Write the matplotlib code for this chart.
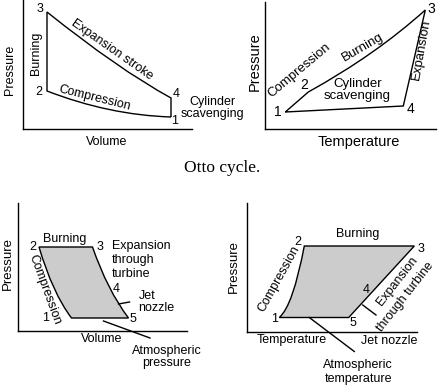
import matplotlib
matplotlib.use("Agg")
import matplotlib.pyplot as plt
from matplotlib.path import Path
from matplotlib.patches import PathPatch

W, H, DPI = 442, 389, 100
SANS = ["Liberation Sans", "DejaVu Sans"]
SERIF = ["Liberation Serif", "DejaVu Serif"]
FS = 9
GRAY = "#cccccc"
LW = 1.0

# ---------------- data (arbitrary units) ----------------
# Otto cycle, pressure-volume: states 1,2,3,4
otto_pv_states = ["1", "2", "3", "4"]
otto_pv_volume = [148, 24, 24, 148]
otto_pv_pressure = [12, 38, 117, 31]
otto_pv_compression_ctrl = (86, 14)
otto_pv_expansion_ctrl = (95, 60)

# Otto cycle, pressure-temperature
otto_pt_states = ["1", "2", "3", "4"]
otto_pt_temperature = [20, 43, 160, 138]
otto_pt_pressure = [17, 37, 119, 23]
otto_pt_burning_ctrl = (110, 74)

# Brayton (jet) cycle, pressure-volume: states 1,2,3,5
jet_pv_states = ["1", "2", "3", "5"]
jet_pv_volume = [54, 21.5, 75, 111]
jet_pv_pressure = [13, 84, 84, 13]
jet_pv_compression_ctrl = (35, 38)
jet_pv_expansion_ctrl = (90, 40.5)

# Brayton (jet) cycle, pressure-temperature
jet_pt_states = ["1", "2", "3", "5"]
jet_pt_temperature = [32.6, 57.6, 167.6, 102]
jet_pt_pressure = [14, 85.5, 85.5, 14]
jet_pt_compression_ctrl = (46.3, 25.7)

# panel frames in pixels: (axis origin x, axis origin y, x-axis end, y-axis top)
frames = {
    "otto_pv": (23, 129, 192, 0),
    "otto_pt": (265.3, 129, 436, 2),
    "jet_pv": (17.5, 331, 187, 203),
    "jet_pt": (246.7, 331.5, 416.7, 203),
}

fig = plt.figure(figsize=(W / DPI, H / DPI), dpi=DPI)


def make_axes(key):
    x0, y0, x1, yt = frames[key]
    ax = fig.add_axes([x0 / W, (H - y0) / H, (x1 - x0) / W, (y0 - yt) / H])
    ax.set_xlim(0, x1 - x0)
    ax.set_ylim(0, y0 - yt)
    ax.patch.set_alpha(0)
    for s in ["top", "right"]:
        ax.spines[s].set_visible(False)
    for s in ["left", "bottom"]:
        ax.spines[s].set_linewidth(LW)
    ax.set_xticks([])
    ax.set_yticks([])
    return ax


def txt(ax, x, y, s, rot=0, ha="center", va="center", ls=1.1, fs=FS, **kw):
    ax.text(x, y, s, rotation=rot, ha=ha, va=va, rotation_mode="anchor",
            fontsize=fs, family=SANS, linespacing=ls, clip_on=False, **kw)


def draw_path(ax, verts, codes, fill=None):
    p = Path(verts, codes)
    ax.add_patch(PathPatch(p, facecolor=fill if fill else "none",
                           edgecolor="black", lw=LW, joinstyle="miter",
                           clip_on=False))


# ---------------- Otto P-V ----------------
ax = make_axes("otto_pv")
v, p = otto_pv_volume, otto_pv_pressure
verts = [(v[0], p[0]), otto_pv_compression_ctrl, (v[1], p[1]), (v[2], p[2]),
         otto_pv_expansion_ctrl, (v[3], p[3]), (v[0], p[0])]
codes = [Path.MOVETO, Path.CURVE3, Path.CURVE3, Path.LINETO,
         Path.CURVE3, Path.CURVE3, Path.LINETO]
draw_path(ax, verts, codes)
for s, (x, y) in zip(otto_pv_states, [(152, 8), (16, 37), (17, 120), (153, 35)]):
    txt(ax, x, y, s)
txt(ax, 13, 76, "Burning", rot=90)
txt(ax, 89, 79, "Expansion stroke", rot=-35)
txt(ax, 72, 31, "Compression", rot=-14)
txt(ax, 189, 21, "Cylinder\nscavenging", ls=1.0)
txt(ax, -13, 59, "Pressure", rot=90)
txt(ax, 84, -13, "Volume")

# ---------------- Otto P-T ----------------
ax = make_axes("otto_pt")
t, p = otto_pt_temperature, otto_pt_pressure
verts = [(t[0], p[0]), (t[1], p[1]), otto_pt_burning_ctrl, (t[2], p[2]),
         (t[3], p[3]), (t[0], p[0])]
codes = [Path.MOVETO, Path.LINETO, Path.CURVE3, Path.CURVE3,
         Path.LINETO, Path.LINETO]
draw_path(ax, verts, codes)
for s, (x, y) in zip(otto_pt_states, [(13, 17), (39, 44), (166, 120), (145, 20)]):
    txt(ax, x, y, s, fs=10)
txt(ax, 34, 59, "Compression", rot=40, fs=9.5)
txt(ax, 97, 82, "Burning", rot=30, fs=9.5)
txt(ax, 92, 39, "Cylinder\nscavenging", ls=1.05, fs=9.5)
txt(ax, 156, 79, "Expansion", rot=80, fs=9.5)
txt(ax, -11, 67, "Pressure", rot=90, fs=10.5)
txt(ax, 94, -13, "Temperature", fs=10.5)

# ---------------- caption ----------------
fig.text(221.7 / W, 1 - 168.3 / H, "Otto cycle.", ha="center", va="center",
         fontsize=12.5, family=SERIF)

# ---------------- Jet P-V ----------------
ax = make_axes("jet_pv")
v, p = jet_pv_volume, jet_pv_pressure
verts = [(v[0], p[0]), jet_pv_compression_ctrl, (v[1], p[1]), (v[2], p[2]),
         jet_pv_expansion_ctrl, (v[3], p[3]), (v[0], p[0])]
codes = [Path.MOVETO, Path.CURVE3, Path.CURVE3, Path.LINETO,
         Path.CURVE3, Path.CURVE3, Path.CLOSEPOLY]
draw_path(ax, verts, codes, fill=GRAY)
for s, (x, y) in zip(jet_pv_states, [(28, 13), (15, 84), (82.5, 84), (115, 12)]):
    txt(ax, x, y, s)
txt(ax, 98.5, 42, "4")
txt(ax, 47.5, 92, "Burning")
txt(ax, 27.5, 41, "Compression", rot=-70)
txt(ax, 94, 71, "Expansion\nthrough\nturbine", ha="left", ls=1.2)
txt(ax, 121, 29, "Jet\nnozzle", ha="left", ls=1.1)
ax.plot([101, 112], [27, 29], color="black", lw=LW, clip_on=False)
ax.plot([86, 132.5], [10, -7], color="black", lw=LW, clip_on=False)
txt(ax, 84, -8, "Volume")
txt(ax, 149.5, -26, "Atmospheric\npressure", ls=1.05)
txt(ax, -10, 68, "Pressure", rot=90, fs=9.5)

# ---------------- Jet P-T ----------------
ax = make_axes("jet_pt")
t, p = jet_pt_temperature, jet_pt_pressure
verts = [(t[0], p[0]), jet_pt_compression_ctrl, (t[1], p[1]), (t[2], p[2]),
         (t[3], p[3]), (t[0], p[0])]
codes = [Path.MOVETO, Path.CURVE3, Path.CURVE3, Path.LINETO,
         Path.LINETO, Path.CLOSEPOLY]
draw_path(ax, verts, codes, fill=GRAY)
for s, (x, y) in zip(jet_pt_states, [(27.6, 13), (51.6, 90), (174, 83), (106, 8)]):
    txt(ax, x, y, s)
txt(ax, 119, 41.5, "4")
txt(ax, 111, 98, "Burning")
txt(ax, 32.6, 53, "Compression", rot=61)
txt(ax, 151, 50, "Expansion", rot=52)
txt(ax, 159, 35, "through turbine", rot=52)
ax.plot([116, 129.3], [26.5, 16.5], color="black", lw=LW, clip_on=False)
ax.plot([62.6, 107.6], [14, -20], color="black", lw=LW, clip_on=False)
txt(ax, 142.6, -9, "Jet nozzle")
txt(ax, 45.3, -9, "Temperature")
txt(ax, 111.6, -40.5, "Atmospheric\ntemperature", ls=1.25)
txt(ax, -13, 65, "Pressure", rot=90, fs=9.5)

fig.savefig("out.png", dpi=DPI)
